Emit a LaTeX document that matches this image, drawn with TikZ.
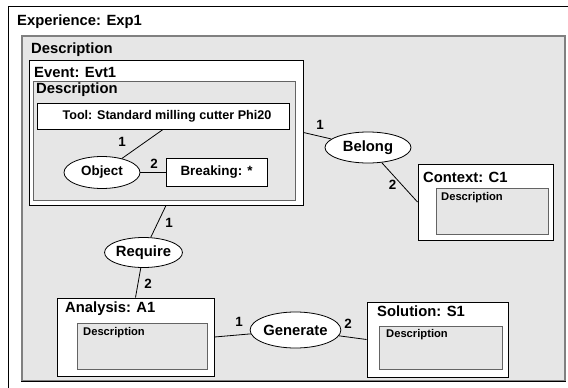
\documentclass[tikz,border=0pt]{standalone}
\usepackage{fontspec}
\setmainfont{Liberation Sans}
\usepackage{xcolor}
\definecolor{dgray}{RGB}{230,230,230}
\definecolor{lgray}{RGB}{128,128,128}
\definecolor{igray}{RGB}{100,100,100}
\usetikzlibrary{shapes.geometric}

\begin{document}
\begin{tikzpicture}[x=1pt,y=-1pt]
  \tikzset{white box/.style 2 args={draw,rectangle,fill=white,line width=1pt,inner sep=0pt,minimum width=#1,minimum height=#2},
    inner box/.style 2 args={draw=igray,rectangle,fill=dgray,line width=1pt,inner sep=0pt,minimum width=#1,minimum height=#2},
    relation/.style 2 args={draw,ellipse,fill=white,line width=0.8pt,inner sep=0pt,minimum width=#1,minimum height=#2,font=\fontsize{14.8}{17}\selectfont\bfseries},
    title text/.style={anchor=west,inner sep=0pt,font=\fontsize{14.8}{17}\selectfont\bfseries},
    small text/.style={anchor=west,inner sep=0pt,font=\fontsize{11.2}{13}\selectfont\bfseries},
    role/.style={inner sep=0pt,font=\fontsize{13.4}{15}\selectfont\bfseries}}

  \useasboundingbox (0,0) rectangle (568,388);

  \node [draw,line width=1.3pt,anchor=north west,minimum width=580,minimum height=400] (exp) at (8,6) {}; % experience
  \node [draw=lgray,fill=dgray,line width=1.3pt,minimum width=543,minimum height=345] (desc) at (293.5,208.5) {}; % description
  \draw [line width=1.3pt] (desc.south west) -- (desc.south east);

  \node [white box={274}{145}] (evt) at (166,132.5) {}; % event
  \node [inner box={262}{119}] (evtdesc) at (164,140.5) {};
  \node [white box={252}{26},font=\fontsize{12.6}{15}\selectfont\bfseries] (tool) at (163,116) {\hspace*{8pt}Tool: Standard milling cutter Phi20};
  \node [relation={76}{32},font=\fontsize{13.4}{15}\selectfont\bfseries] (obj) at (102,172.5) {Object};
  \node [white box={101}{28},font=\fontsize{13.4}{15}\selectfont\bfseries] (brk) at (216.5,172.5) {Breaking: *};

  \node [relation={86}{31}] (bel) at (368,147.5) {Belong};
  \node [white box={135}{76}] (ctx) at (485.5,202) {}; % context
  \node [inner box={112}{46}] (ctxdesc) at (492,211) {};

  \node [relation={73}{30}] (req) at (143.5,252.5) {Require};
  \node [white box={157}{78}] (ana) at (135.5,337) {}; % analysis
  \node [inner box={130}{46}] (anadesc) at (142,346) {};

  \node [relation={83}{36}] (gen) at (295.5,330) {Generate};
  \node [white box={141}{75}] (sol) at (437.5,339.5) {}; % solution
  \node [inner box={123}{43}] (soldesc) at (440.5,347.5) {};

  % titles
  \node [title text] (t1) at (17,22) {Experience: Exp1};
  \node [title text] (t2) at (31,50) {Description};
  \node [title text] (t3) at (34,72) {Event: Evt1};
  \node [title text] (t4) at (36,90) {Description};
  \node [title text] (t5) at (423,177) {Context: C1};
  \node [small text] (t6) at (441,198) {Description};
  \node [title text] (t7) at (65,309) {Analysis: A1};
  \node [small text] (t8) at (83,333) {Description};
  \node [title text] (t9) at (377,311) {Solution: S1};
  \node [small text] (t10) at (386,335) {Description};

  % links
  \draw [line width=0.8pt] (tool.south) -- (obj);
  \draw [line width=0.8pt] (obj) -- (brk);
  \draw [line width=0.8pt] (evt.east) -- (bel);
  \draw [line width=0.8pt] (bel) -- (ctx.west);
  \draw [line width=0.8pt] (evt.south) -- (req);
  \draw [line width=0.8pt] (req) -- (ana.north);
  \draw [line width=0.8pt] (ana.east) -- (gen);
  \draw [line width=0.8pt] (gen) -- (sol.west);

  \node [role] (r1) at (122,142) {1};
  \node [role] (r2) at (154,164) {2};
  \node [role] (r3) at (320,125) {1};
  \node [role] (r4) at (392.5,185) {2};
  \node [role] (r5) at (169,223) {1};
  \node [role] (r6) at (148,284) {2};
  \node [role] (r7) at (239,322) {1};
  \node [role] (r8) at (348,324) {2};
\end{tikzpicture}
\end{document}
